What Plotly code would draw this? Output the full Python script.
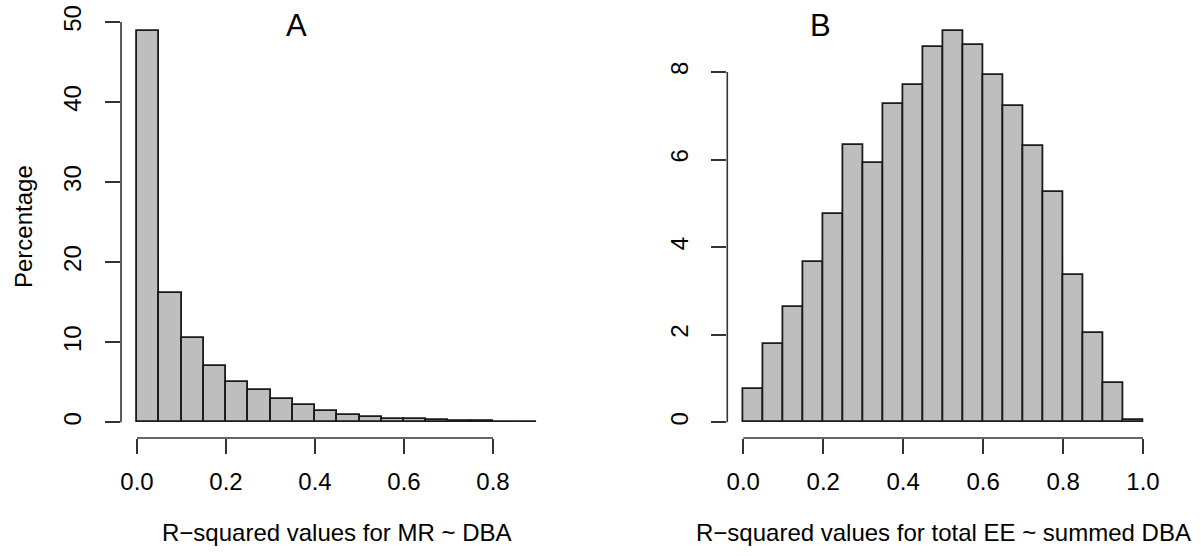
import plotly.graph_objects as go

# ---- data ----
bin_width = 0.05
a_left = [0.00, 0.05, 0.10, 0.15, 0.20, 0.25, 0.30, 0.35, 0.40,
          0.45, 0.50, 0.55, 0.60, 0.65, 0.70, 0.75, 0.80, 0.85]
a_pct = [48.9, 16.1, 10.5, 7.0, 5.0, 4.0, 2.85, 2.2, 1.4,
         0.95, 0.62, 0.46, 0.37, 0.29, 0.17, 0.12, 0.08, 0.06]

b_left = [0.00, 0.05, 0.10, 0.15, 0.20, 0.25, 0.30, 0.35, 0.40, 0.45,
          0.50, 0.55, 0.60, 0.65, 0.70, 0.75, 0.80, 0.85, 0.90, 0.95]
b_pct = [0.77, 1.79, 2.63, 3.66, 4.76, 6.34, 5.93, 7.26, 7.71, 8.56,
         8.94, 8.62, 7.92, 7.23, 6.30, 5.26, 3.37, 2.04, 0.90, 0.05]

a_xticks = [0.0, 0.2, 0.4, 0.6, 0.8]
a_xticklabels = ["0.0", "0.2", "0.4", "0.6", "0.8"]
a_yticks = [0, 10, 20, 30, 40, 50]
b_xticks = [0.0, 0.2, 0.4, 0.6, 0.8, 1.0]
b_xticklabels = ["0.0", "0.2", "0.4", "0.6", "0.8", "1.0"]
b_yticks = [0, 2, 4, 6, 8]

title_a = "A"
title_b = "B"
xlabel_a = "R\u2212squared values for MR ~ DBA"
xlabel_b = "R\u2212squared values for total EE ~ summed DBA"
ylabel = "Percentage"

# ---- styles ----
W, H = 1201, 556
ML, MR, MT, MB = 121, 42, 15, 118
PW = W - ML - MR
PH = H - MT - MB
FONT = "Liberation Sans, Arial, Helvetica, sans-serif"
BAR_FILL = "#BEBEBE"
EDGE = "#1a1a1a"
AXC = "#333333"
TICKFS = 24

def px_x(px):
    return (px - ML) / PW

def px_y(py):
    return (H - MB - py) / PH

dom_a = [0.0, px_x(553.5)]
dom_b = [px_x(727.3), 1.0]

fig = go.Figure()
fig.add_trace(go.Bar(x=a_left, y=a_pct, width=bin_width, offset=0,
                     marker=dict(color=BAR_FILL, line=dict(color=EDGE, width=1.8)),
                     xaxis="x", yaxis="y", showlegend=False, hoverinfo="x+y"))
fig.add_trace(go.Bar(x=b_left, y=b_pct, width=bin_width, offset=0,
                     marker=dict(color=BAR_FILL, line=dict(color=EDGE, width=1.8)),
                     xaxis="x2", yaxis="y2", showlegend=False, hoverinfo="x+y"))

common_ax = dict(showgrid=False, zeroline=False, showline=False, automargin=False,
                 ticks="outside", ticklen=15, tickwidth=1.6, tickcolor=AXC,
                 tickfont=dict(family=FONT, size=TICKFS, color="#000000"))

fig.update_layout(
    width=W, height=H,
    margin=dict(l=ML, r=MR, t=MT, b=MB, pad=0, autoexpand=False),
    paper_bgcolor="white", plot_bgcolor="white",
    bargap=0,
    font=dict(family=FONT, color="#000000"),
    xaxis=dict(domain=dom_a, range=[-0.036, 0.936], anchor="y",
               tickmode="array", tickvals=a_xticks, ticktext=a_xticklabels,
               ticklabelstandoff=7, **common_ax),
    yaxis=dict(domain=[0, 1], range=[-1.96, 50.88], anchor="x",
               tickmode="array", tickvals=a_yticks,
               tickangle=-90, ticklabelstandoff=14, **common_ax),
    xaxis2=dict(domain=dom_b, range=[-0.04, 1.04], anchor="y2",
                tickmode="array", tickvals=b_xticks, ticktext=b_xticklabels,
                ticklabelstandoff=7, **common_ax),
    yaxis2=dict(domain=[0, 1], range=[-0.358, 9.30], anchor="x2",
                tickmode="array", tickvals=b_yticks,
                tickangle=-90, ticklabelstandoff=14, **common_ax),
)

# axis lines spanning only the tick range (R style)
shapes = [
    dict(type="line", xref="x", yref="y domain", x0=a_xticks[0], x1=a_xticks[-1], y0=0, y1=0,
         line=dict(color=AXC, width=1.6)),
    dict(type="line", xref="x domain", yref="y", x0=0, x1=0, y0=a_yticks[0], y1=a_yticks[-1],
         line=dict(color=AXC, width=1.6)),
    dict(type="line", xref="x2", yref="y2 domain", x0=b_xticks[0], x1=b_xticks[-1], y0=0, y1=0,
         line=dict(color=AXC, width=1.6)),
    dict(type="line", xref="x2 domain", yref="y2", x0=0, x1=0, y0=b_yticks[0], y1=b_yticks[-1],
         line=dict(color=AXC, width=1.6)),
]
fig.update_layout(shapes=shapes)

ann = [
    dict(text=title_a, xref="paper", yref="paper", x=px_x(296), y=px_y(25.5),
         showarrow=False, font=dict(family=FONT, size=31, color="#000000"),
         xanchor="center", yanchor="middle"),
    dict(text=title_b, xref="paper", yref="paper", x=px_x(820.5), y=px_y(25.5),
         showarrow=False, font=dict(family=FONT, size=31, color="#000000"),
         xanchor="center", yanchor="middle"),
    dict(text=xlabel_a, xref="paper", yref="paper", x=px_x(337.2), y=px_y(532),
         showarrow=False, font=dict(family=FONT, size=TICKFS, color="#000000"),
         xanchor="center", yanchor="middle"),
    dict(text=xlabel_b, xref="paper", yref="paper", x=px_x(943.3), y=px_y(532),
         showarrow=False, font=dict(family=FONT, size=TICKFS, color="#000000"),
         xanchor="center", yanchor="middle"),
    dict(text=ylabel, xref="paper", yref="paper", x=px_x(23), y=px_y(227),
         showarrow=False, textangle=-90, font=dict(family=FONT, size=TICKFS, color="#000000"),
         xanchor="center", yanchor="middle"),
]
fig.update_layout(annotations=ann)

fig.write_html("out.html",
               config={"displayModeBar": False},
               post_script="document.body.style.margin='0';document.body.style.overflow='hidden';")
